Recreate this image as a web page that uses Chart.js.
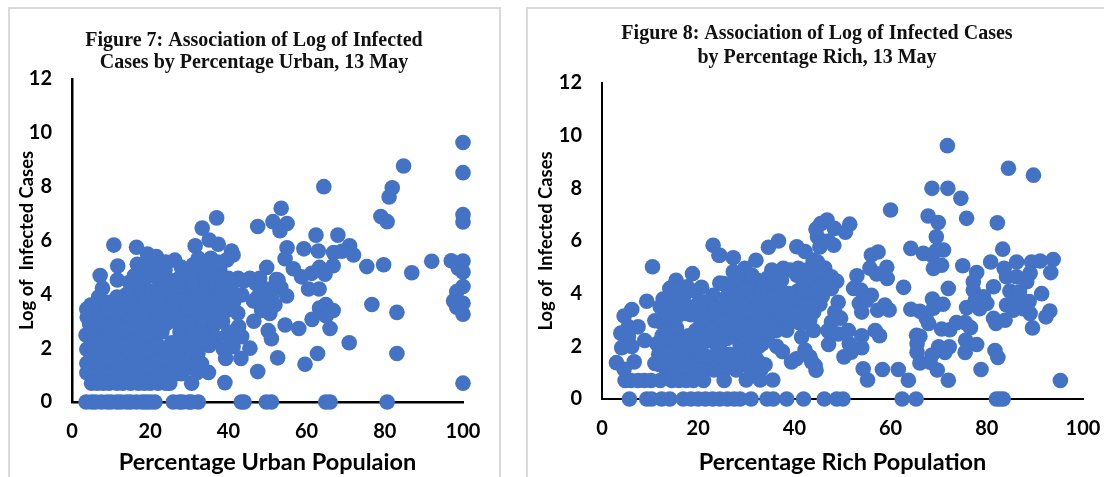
<!DOCTYPE html>
<html><head><meta charset="utf-8">
<script src="https://cdn.jsdelivr.net/npm/chart.js@4"></script>
<style>
html,body{margin:0;padding:0;background:#fff;overflow:hidden;width:1104px;height:477px}
.panel{position:absolute;border:2px solid #d9d9d9;box-sizing:border-box;background:#fff}
canvas{position:absolute;top:0}
</style></head><body>
<div class="panel" style="left:8px;top:7px;width:493px;height:490px"></div>
<div class="panel" style="left:526px;top:7px;width:600px;height:490px"></div>
<canvas id="c1" width="508" height="477" style="left:0"></canvas>
<canvas id="c2" width="574" height="477" style="left:530px"></canvas>
<script>
const urbanTitle = ["Figure 7: Association of Log of Infected","Cases by Percentage Urban, 13 May"];
const richTitle = ["Figure 8: Association of Log of Infected Cases","by Percentage Rich, 13 May"];
const urbanXTitle = "Percentage Urban Populaion";
const richXTitle = "Percentage Rich Population";
const yTitle = "Log of  Infected Cases";

const urbanPoints = [
[100,9.64],[100,8.52],[84.8,8.77],[64.4,8.0],[81.9,7.96],[81.1,7.62],[79,6.89],[80.6,6.7],[100,6.96],[100,6.69],
[53.5,7.2],[51.4,6.7],[55,6.63],[53.2,6.36],[62.4,6.2],[68,6.2],[55,5.73],[59.3,5.69],[63,5.61],[71,5.8],
[66.9,5.55],[69,5.6],[72,5.46],[54.5,5.32],[75.4,5.03],[79.7,5.1],[92,5.23],[97,5.25],[100,5.24],[98.8,4.97],
[100,4.83],[86.9,4.8],[66.8,5.06],[63.3,5.0],[64.7,4.75],[61.3,4.78],[58.7,4.65],[56.6,4.95],[60.5,4.2],[63.2,4.2],
[52.3,4.55],[53.4,4.25],[54.9,3.94],[100,4.29],[98.4,4.1],[97.6,3.75],[100,3.67],[98.4,3.52],[100,3.26],[76.7,3.62],
[83.1,3.33],[64.9,3.62],[63.3,3.49],[66.8,3.4],[65,3.2],[61.4,3.07],[66,2.73],[54.5,2.86],[58,2.73],[51.9,3.6],
[50.6,3.29],[50.2,2.65],[51,2.35],[70.9,2.2],[62.8,1.8],[83.1,1.8],[59.6,1.4],[52.6,1.64],[100,0.7],[51,0],
[64.9,0],[66,0],[80.6,0],[49.7,0],[47.5,6.52],[37,6.84],[33.3,6.46],[35.1,6.02],[37.4,5.86],[31.5,5.8],
[40.8,5.61],[41.2,5.46],[49.8,5.0],[26.3,5.27],[32.3,5.34],[35.5,5.34],[39.6,5.28],[29.8,4.9],[37.8,4.9],[42.5,4.6],
[45.5,4.6],[48,4.6],[52.7,4.53],[48.9,4.22],[43.4,3.98],[46.4,3.75],[49.8,3.72],[46.5,3.0],[42.4,3.3],[42.6,2.8],
[43.4,2.43],[40,2.6],[40.4,2.3],[38.7,1.97],[41.2,2.05],[45.5,2.0],[39.3,1.62],[43.2,1.62],[47.5,1.13],[39.1,0.72],
[35.1,2.1],[34.9,2.67],[37.8,3.3],[37.8,3.6],[39.1,4.0],[33.6,4.6],[35.2,4.6],[40,4.6],[30.2,1.62],[33.1,1.43],
[34.9,1.1],[30.6,0.7],[25,0.7],[27.6,2.6],[31.5,2.25],[44,0],[43.3,0],[32.3,0],[29.9,0],[28.2,0],
[25.9,0],[10.7,5.83],[16.5,5.75],[19.3,5.5],[21.6,5.4],[16.7,5.12],[11.7,5.05],[7.2,4.7],[11.6,4.53],[14.7,4.45],
[7.8,4.23],[3.8,3.45],[3.9,3.15],[3.6,2.49],[3.8,1.96],[3.8,1.44],[3.8,1.09],
[5.2,3.3],[4.5,2.9],[6,3.6],[6.8,3.9],[8,3.4],[5,2.5],[6.5,2.8],[8,2.5],[5,2.1],[6.5,1.8],
[8.5,2.0],[5.5,1.5],[7,1.3],[9,1.5],[5.2,1.1],[8,1.0],[10,1.2],[9.5,3.0],[10,2.6],[10.3,2.0],
[9.8,3.7],[11,3.3],[11.5,2.8],[12,2.3],[12,1.7],[12.5,1.2],[13,3.9],[13,3.1],[14,2.6],[14,2.0],
[14.5,1.5],[14.5,1.0],[15,3.5],[15.8,4.0],[16.5,3.1],[16,2.4],[17,1.8],[16.5,1.2],[17.5,3.6],[18,2.8],
[18.5,2.2],[18.7,1.5],[19,1.0],[19,4.2],[19.5,3.4],[20,4.7],[20.5,2.9],[21,2.3],[21,1.7],[21.5,1.1],
[21.7,3.8],[22.5,3.2],[22.5,4.4],[23,2.6],[23,1.9],[23.5,1.3],[23.8,4.9],[24.5,3.8],[24.5,3.2],[25.5,1.7],
[26,1.2],[26,4.5],[26.5,3.5],[27,4.0],[28,4.7],[28.5,3.6],[29.5,3.1],[29,2.4],[28.5,1.9],[29,1.4],
[29.5,4.2],[30.5,3.2],[31,3.8],[31.5,2.9],[31.5,4.7],[32.5,2.2],[32.5,4.2],[33,3.5],[33.5,5.0],[34.5,4.4],
[36,4.9],[36,3.1],[36.5,4.2],[38,4.6],[17,4.4],[17.5,4.8],[14,4.0],[11.5,3.9],[10,3.4],
[4.8,3.6],[6.2,3.1],[7.2,3.2],[8.8,3.7],[9,3.2],[7.5,2.9],[9,2.8],[6,2.3],[7.3,2.2],[9.2,2.4],
[5.8,1.9],[7.6,1.7],[9.6,1.8],[6.3,1.4],[8.2,1.4],[10.8,1.6],[6.6,1.0],[9.2,1.05],[11.3,1.05],[10.8,2.3],
[11,2.9],[12.2,3.4],[13.2,2.7],[12.8,2.1],[13.2,1.55],[13.5,1.15],[15.2,1.25],[15.3,1.8],[15.2,2.2],[15,2.9],
[14.2,3.3],[14.6,3.8],[16,3.4],[17,2.7],[17.2,2.2],[17.5,1.3],[16.2,1.55],[18,1.05],[18,3.1],[18.5,3.9],
[19.3,2.5],[19.7,1.9],[19.8,1.3],[20.5,3.6],[20.7,4.1],[21.8,2.9],[22,2.1],[22.2,1.5],[22.5,1.05],[23,3.6],
[23.5,4.1],[24,2.9],[24.2,1.6],[25,1.05],[25,4.2],[25.3,3.5],[26.2,3.0],[27,1.5],[27,2.0],[26.8,1.05],
[27.5,3.2],[27.8,3.8],[28,1.05],[28,4.3],[29.8,1.9],[30,2.8],[30.3,3.7],[30.5,2.3],[30.7,4.4],[31.2,1.3],
[32,3.2],[32.2,1.8],[33,2.6],[33.5,3.1],[33.7,4.0],[35,5.0],[35.5,3.3],[37,4.4],[37,3.9],[38.5,3.0],
[38.5,4.3],[41,4.4],[16,4.7],[18.5,4.6],[21,4.7],[24.5,4.5],[27,4.5],[29,4.7],[31,5.1],[34,5.2],
[21,5],[19,5.1],[24,5.2],[44,4.5],[47,4.4],[47.5,3.9],[50.5,4.2],[51,3.9],[48.5,3.4],
[25.5,2.2],[26.6,2.2],[28,2.9],[28.5,1.4],[31,2.0],[29.5,3.5],[32.5,3.8],[32,1.1],[28.3,1.1],[34,2.3],
[36.5,2.9],[36.8,2.4],[35.8,3.7],[39.5,3.4],[40.6,4],[41.3,3.7],[37.2,5.2],[28,5],[30.5,4.7],[34.5,4.8],
[5,0.7],[6.5,0.7],[8,0.7],[9.5,0.7],[11.5,0.7],[13,0.7],[15,0.7],[17,0.7],[18.5,0.7],[20,0.7],[22,0.7],[24,0.7],
[3.6,0],[5,0],[6,0],[7.5,0],[9,0],[10,0],[11.5,0],[12.5,0],[14,0],[15,0],[16.5,0],[18,0],[19,0],[20,0],[21.2,0],[27.5,0],[30.5,0]
];

const richPoints = [
[71.8,9.62],[84.5,8.76],[89.7,8.5],[68.6,8.0],[71.9,8.0],[74.6,7.62],[60,7.18],[67.8,6.95],[69.9,6.7],[75.8,6.86],
[82.2,6.69],[69.5,6.16],[64.2,5.72],[66.8,5.53],[68.5,5.47],[71,5.66],[69.5,5.63],[75,5.06],[70.6,5.08],[68.9,4.96],
[80.8,5.2],[83.3,5.69],[86.2,5.2],[89.3,5.2],[91.1,5.24],[93.8,5.3],[93.3,4.8],[89,4.78],[88.3,4.45],[86.2,4.64],
[83.6,4.96],[84.1,4.64],[77.9,4.8],[77.2,4.45],[72,4.2],[81.4,4.26],[77.2,4.13],[84.8,4.1],[86.8,4.07],[91.4,4.0],
[88.8,3.7],[86.2,3.75],[84.1,3.57],[79.3,3.88],[77.6,3.75],[80,3.63],[75.8,3.47],[78.5,3.43],[85.5,3.37],[87.6,3.43],
[89,3.25],[93.1,3.34],[92.3,3.12],[81.4,3.06],[81.9,2.87],[83.8,2.99],[89.5,2.7],[68.7,3.8],[70.9,3.6],[68.9,3.45],
[64.2,3.41],[66.1,3.33],[67.4,3.07],[67.9,2.87],[70.6,2.66],[72.3,2.63],[73.7,2.9],[75.5,2.9],[76.6,2.71],[65.4,2.42],
[66.1,2.38],[65.5,2.1],[65.5,1.78],[75.6,2.23],[77.9,2.07],[75.5,1.77],[81.7,1.84],[82.3,1.58],[72.2,1.98],[70,1.98],
[71.3,1.77],[68.6,1.67],[66.1,1.37],[68.2,1.4],[69.7,1.1],[78.8,1.12],[63.7,0.71],[72,0.71],[95.3,0.7],[61.6,1.12],
[58.3,1.12],[54.3,1.15],[55.2,0.72],[57.4,5.58],[56,5.47],[59.2,5.0],[55.7,4.97],[57.1,4.75],[59.3,4.58],[62.7,4.24],
[53,4.68],[52.3,4.2],[53.8,4.14],[56,3.94],[53.5,3.63],[55,3.75],[54,3.3],[57.3,3.37],[58.8,3.57],[59.7,3.38],
[56.8,2.6],[57.7,2.4],[54,2.4],[54,1.95],[51.4,2.1],[51.8,1.78],[50.3,1.6],[51.2,2.6],[49.1,3.67],[48.4,3.3],
[49.6,3.07],[47.7,2.92],[47.1,2.56],[49.1,2.47],[47.1,2.07],[45.5,6.66],[46.8,6.8],[48.3,6.48],[50.6,6.33],[51.5,6.64],
[44.5,6.45],[44.8,6.16],[47.1,6.0],[48.2,5.84],[45.3,5.77],[43.9,5.15],[46.3,4.97],[47.7,4.64],[48.8,4.47],[46.8,4.5],
[44.6,3.65],[44.3,1.27],[43.2,1.6],[44,2.6],[43.2,3.1],[36.7,6.0],[34.6,5.76],[40.5,5.78],[42.2,5.6],[27.3,5.36],
[24.5,5.46],[32,5.27],[29.7,4.96],[27.3,4.83],[37.7,4.96],[35.3,4.9],[40.8,4.96],[32.5,4.5],[29.4,4.4],[25.9,4.3],
[24.5,4.4],[43.9,5.28],[42.5,4.9],[47.7,4.2],[44.6,3.6],[41.5,2.35],[42.2,1.86],[40.4,1.53],[39.4,1.41],[43.6,1.41],
[44.5,1.09],[47,2.6],[36.3,2.0],[37.5,1.8],[38.4,2.61],[34.6,2.43],[32.7,2.94],[27.6,3.06],[25.6,3.37],[30.4,3.12],
[28.3,2.43],[28.7,2.05],[30.6,2.43],[32.6,1.99],[29.4,1.74],[25.6,1.6],[24.5,2.1],[32.2,1.5],[33.9,1.3],[27.9,1.35],
[27.9,1.1],[41.9,4.4],[37,4.1],[35,4.2],[40.4,3.9],[38.4,3.4],[35.6,3.1],[32.7,3.6],[41.9,3.4],[36.9,2.86],
[43.2,4.1],[45.3,4.4],[32.2,3.96],[29.4,3.7],[39.1,4.9],[43.2,3.0],[42.5,2.9],
[10.5,5.02],[18.8,4.76],[23.1,5.84],[24.3,5.46],[15.4,4.51],[14.1,4.2],[17.7,4.26],[20.7,4.24],[23.1,3.94],[9.3,3.71],
[6.2,3.4],[4.6,3.15],[16.2,3.75],[13.4,3.55],[12.1,3.5],[21.8,3.69],[17.5,3.25],[11,2.97],[21.1,3.25],[25.3,4.38],
[25.6,3.44],[7.5,2.74],[3.9,2.5],[5.5,2.74],[8.9,2.22],[4.1,1.95],[6.2,1.99],[5.5,2.36],[3,1.38],[6.7,1.41],
[4.6,1.13],[11,1.35],[11.4,2.1],
[12,1.3],[12.5,1.8],[12.5,2.4],[13.5,1.0],[14,1.5],[14,2.1],[14.5,2.8],[15.5,3.1],[15.8,1.8],[15.5,1.3],
[16,2.4],[17,2.0],[17.5,1.5],[18,2.4],[19,1.7],[19.5,2.6],[20,2.1],[20.5,3],[21,1.5],[21.5,2.5],
[22,3],[22.5,1.2],[23,2.3],[23.5,2.7],[24.5,1.4],[24.5,3.1],[25,2.5],[26,1.2],[26.5,1.7],[14.5,3.5],
[15.5,3.9],[17,3.9],
[11.8,1.7],[12.5,2.9],[13,3.1],[13.2,1.3],[13,2.1],[13.5,2.6],[14.7,1.1],[14.8,1.8],[15,2.3],[16,3.4],
[16.5,1.0],[16.8,1.6],[18.2,1.1],[18.3,1.9],[18.7,1.35],[19.8,1.4],[20.3,2.4],[20.5,1.8],[21,2.8],[21.2,1.1],
[22,2.2],[23.3,1.1],[23,1.5],[24,2],[24.3,2.4],[26,2.3],[26.4,2.7],[26.3,1.5],[14.2,3.9],[16.8,3.5],
[16,4.2],[19.3,4.1],[12.7,3.8],[26,3.9],[27,4.2],[28,4.6],[28.6,3.4],[30.5,3.6],[31,4.1],[31.2,4.7],
[33.5,4.3],[34,3.9],[34,3.3],[34.5,4.6],[34.5,2.9],[36,3.6],[36.5,4.6],[36.3,2.6],[37.5,3.2],[38,3.8],
[37.3,4.5],[39.5,3.1],[39.6,3.6],[40.7,4.1],[40.5,4.7],[41.2,3.7],[42,4.2],[43,3.7],[43,4.6],[44.4,4.1],
[44,4.8],[45.5,4.9],[44.8,5.2],[46,4.3],[45.8,3.9],[31,2.8],[31.5,3.3],[29,3.0],[26.7,3.0],[27.5,2.6],
[28.5,1.5],[30,1.3],[31,1.1],[33.3,2.1],[31.2,1.8],[33,1.1],
[22.3,3.6],[24,3.5],[27,3.5],[28,3.9],[30,3.4],[30,4.2],[32.5,3.2],[33,4],[35.5,3.8],[35.5,4.5],
[37,3.5],[38.8,4],[39,3.7],[40.5,3.3],[41,2.9],[42.4,3.6],[44,3.3],[45.3,3.6],[25,1.05],[27,1.4],
[28.3,1.6],[29,2.5],[29.8,2.1],[31.5,2.4],[33.5,2.6],[17,1.1],[19,2.2],[20,1.1],[22,1.6],[22.8,2.6],
[24.2,1.8],[25,3.5],[23.5,3.4],[19,3.5],[20.3,3.7],[18.5,3.2],[13.3,2.3],[13.3,1.7],[16,1.55],[15.5,2.7],[14.8,3.2],
[4.8,0.7],[6,0.7],[7.5,0.7],[8.8,0.7],[10.2,0.7],[12.1,0.7],[14.5,0.7],[16,0.7],[17.5,0.7],[19,0.7],[21.1,0.7],[25.4,0.7],[30,0.72],[32.9,0.72],[35.5,0.72],
[5.7,0],[9.3,0],[10.3,0],[12.4,0],[14.1,0],[16.9,0],[18.5,0],[20,0],[21.5,0],[23,0],[24.5,0],[26.1,0],[27.5,0],[28.7,0],[31,0],[34.3,0],[35.6,0],[38.4,0],[41.9,0],
[46.2,0],[48.8,0],[50.1,0],[62.4,0],[65.3,0],[82,0],[82.7,0],[83.4,0]
];

const blue = "#4472C4";
const sans = "Lato, 'Open Sans', sans-serif";

function makeChart(id, points, titleLines, xTitle, cfg) {
  new Chart(document.getElementById(id), {
    type: "scatter",
    data: { datasets: [{ data: points.map(p => ({x: p[0], y: p[1]})), backgroundColor: blue, borderWidth: 0, pointRadius: 7.8, clip: false }] },
    options: {
      responsive: false, animation: false, devicePixelRatio: 1,
      layout: { padding: 0 },
      plugins: {
        legend: { display: false }, tooltip: { enabled: false },
        title: { display: true, text: titleLines, color: "#111", align: "center",
          font: { family: "'Liberation Serif', serif", weight: "bold", size: 20, lineHeight: cfg.titleLH },
          padding: { top: cfg.titleTop, bottom: cfg.titleBottom } }
      },
      scales: {
        x: { type: "linear", min: 0, max: 100,
          afterFit: s => { s.height = cfg.xHeight; s.paddingRight = cfg.right; s.paddingLeft = 0; },
          grid: { display: false, drawTicks: false }, border: { display: true, color: "#000", width: cfg.axisW },
          ticks: { stepSize: 20, color: "#000", padding: cfg.xTickPad, maxRotation: 0, font: { family: sans, weight: "bold", size: 20 } },
          title: { display: true, text: xTitle, color: "#000", padding: { top: cfg.xTitleTop, bottom: 0 }, font: { family: sans, weight: "bold", size: 23.5 } } },
        y: { min: 0, max: 12,
          afterFit: s => { s.width = 72; s.paddingTop = 0; s.paddingBottom = 0; },
          grid: { display: false, drawTicks: false }, border: { display: true, color: "#000", width: cfg.axisW },
          ticks: { stepSize: 2, color: "#000", padding: 20, font: { family: sans, weight: "bold", size: 20 } },
          title: { display: true, text: yTitle, color: "#000", padding: { top: cfg.yTitleTop, bottom: 0 }, font: { family: sans, weight: "bold", size: 18.4 } } }
      }
    }
  });
}
makeChart("c1", urbanPoints, urbanTitle, urbanXTitle, {right:45, titleLH:1.1, titleTop:30, titleBottom:5, xHeight:75, xTickPad:18, xTitleTop:5, yTitleTop:16, axisW:2.5});
makeChart("c2", richPoints, richTitle, richXTitle, {right:21, titleLH:1.2, titleTop:22, titleBottom:13, xHeight:78, xTickPad:18, xTitleTop:12, yTitleTop:5, axisW:2});
</script>
</body></html>
